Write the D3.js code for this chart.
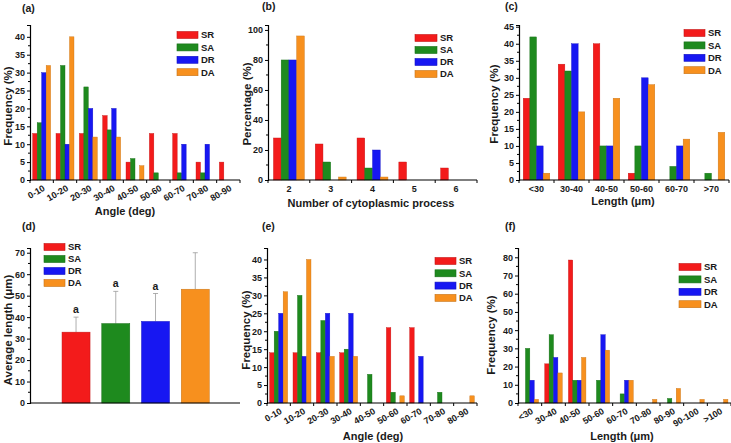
<!DOCTYPE html>
<html><head><meta charset="utf-8">
<script src="https://cdn.jsdelivr.net/npm/d3@7"></script>
<style>
body{margin:0;background:#fff}
text{font-family:"Liberation Sans",Arial,sans-serif;font-weight:bold;fill:#1a1a1a}
</style>
</head><body>
<svg id="chart" width="731" height="443"></svg>
<script>
// ---------- DATA ----------
const seriesNames = ["SR", "SA", "DR", "DA"];
const seriesColors = ["#f31b1b", "#1e8a1e", "#1717f2", "#f7901e"];

// (a) angle distribution
const angleCatsA = ["0-10","10-20","20-30","30-40","40-50","50-60","60-70","70-80","80-90"];
const aSR = [13, 13, 13, 18, 5, 13, 13, 5, 5];
const aSA = [16, 32, 26, 14, 6, 2, 2, 2, 0];
const aDR = [30, 10, 20, 20, 0, 0, 10, 10, 0];
const aDA = [32, 40, 12, 12, 4, 0, 0, 0, 0];

// (b) number of cytoplasmic processes
const processCats = ["2","3","4","5","6"];
const bSR = [28, 24, 28, 12, 8];
const bSA = [80, 12, 8, 0, 0];
const bDR = [80, 0, 20, 0, 0];
const bDA = [96, 2, 2, 0, 0];

// (c) length distribution
const lengthCatsC = ["<30","30-40","40-50","50-60","60-70",">70"];
const cSR = [24, 34, 40, 2, 0, 0];
const cSA = [42, 32, 10, 10, 4, 2];
const cDR = [10, 40, 10, 30, 10, 0];
const cDA = [2, 20, 24, 28, 12, 14];

// (d) average length with error (upper SD)
const dMean = [33, 37, 38, 53];
const dErr  = [7, 15, 13, 17];
const dSig  = ["a", "a", "a", ""];

// (e) angle distribution
const angleCatsE = ["0-10","10-20","20-30","30-40","40-50","50-60","60-70","70-80","80-90"];
const eSR = [14, 14, 14, 14, 0, 21, 21, 0, 0];
const eSA = [20, 30, 23, 15, 8, 3, 0, 3, 0];
const eDR = [25, 13, 25, 25, 0, 0, 13, 0, 0];
const eDA = [31, 40, 13, 13, 0, 2, 0, 0, 2];

// (f) length distribution
const lengthCatsF = ["<30","30-40","40-50","50-60","60-70","70-80","80-90","90-100",">100"];
const fSR = [0, 21.5, 78.5, 0, 0, 0, 0, 0, 0];
const fSA = [30, 37.5, 12.5, 12.5, 5, 0, 2.5, 0, 0];
const fDR = [12.5, 25, 12.5, 37.5, 12.5, 0, 0, 0, 0];
const fDA = [2, 16.5, 25, 29, 12.5, 2, 8, 2, 2];

// ---------- DRAWING ----------
const svg = d3.select("#chart");
const dark = c => d3.color(c).darker(0.6).toString();
const TICK_FS = 9, TITLE_FS = 11.5, LEG_FS = 9.5;

function yAxisDraw(g, y, x0, major, minor, maxV) {
  const gy = g.append("g").attr("transform", `translate(${x0},0)`);
  gy.call(d3.axisLeft(y).tickValues(d3.range(0, maxV + 0.001, major)).tickSize(3).tickPadding(2).tickFormat(d3.format("d")))
    .call(s => s.selectAll("text").style("font-size", TICK_FS + "px").style("font-weight", "bold").attr("fill", "#1a1a1a"))
    .call(s => s.select(".domain").attr("stroke-width", 1.2));
  const mins = d3.range(minor, maxV + 0.001, minor).filter(v => Math.abs(v / major - Math.round(v / major)) > 1e-6);
  gy.selectAll(".mn").data(mins).join("line").attr("class", "mn")
    .attr("x1", 0).attr("x2", -2).attr("y1", d => y(d)).attr("y2", d => y(d)).attr("stroke", "#000");
}

function legendDraw(g, lx, ly, sw, sh, gap, fs) {
  seriesNames.forEach((s, i) => {
    g.append("rect").attr("x", lx).attr("y", ly + i * gap - sh / 2).attr("width", sw).attr("height", sh)
      .attr("fill", seriesColors[i]).attr("stroke", dark(seriesColors[i])).attr("stroke-width", 0.6);
    g.append("text").attr("x", lx + sw + 3).attr("y", ly + i * gap).attr("dy", "0.36em")
      .style("font-size", fs + "px").text(s);
  });
}

function histPanel(p) {
  const g = svg.append("g");
  const x = d3.scaleBand().domain(p.cats).range([p.x0, p.x1]);
  const y = d3.scaleLinear().domain([0, p.yMax]).range([p.y0, p.yTop]);
  const groupW = x.bandwidth() * p.fill;
  const xs = d3.scaleBand().domain(seriesNames).range([0, groupW]);
  const series = [p.v[0], p.v[1], p.v[2], p.v[3]];
  series.forEach((vals, si) => {
    g.selectAll(null).data(vals.map((v, i) => ({ v, c: p.cats[i] })).filter(d => d.v > 0)).join("rect")
      .attr("x", d => x(d.c) + (x.bandwidth() - groupW) / 2 + xs(seriesNames[si]))
      .attr("width", xs.bandwidth())
      .attr("y", d => y(d.v)).attr("height", d => y(0) - y(d.v))
      .attr("fill", seriesColors[si]).attr("stroke", dark(seriesColors[si])).attr("stroke-width", 0.4);
  });
  // x axis
  g.append("line").attr("x1", p.x0).attr("x2", p.x1).attr("y1", p.y0).attr("y2", p.y0).attr("stroke", "#000").attr("stroke-width", 1.2);
  const edges = p.cats.map(c => x(c)).concat([p.x1]);
  g.selectAll(null).data(edges).join("line").attr("x1", d => d).attr("x2", d => d)
    .attr("y1", p.y0).attr("y2", p.y0 + 3).attr("stroke", "#000");
  p.cats.forEach(c => {
    const cx = x(c) + x.bandwidth() / 2;
    if (p.rot) {
      g.append("text").attr("text-anchor", "end")
        .attr("transform", `translate(${cx + p.rotDx},${p.y0 + p.rotDy}) rotate(-30)`)
        .style("font-size", TICK_FS + "px").text(c);
    } else {
      g.append("text").attr("text-anchor", "middle").attr("x", cx).attr("y", p.y0 + 12)
        .style("font-size", TICK_FS + "px").text(c);
    }
  });
  yAxisDraw(g, y, p.x0, p.major, p.minor, p.maxTick);
  // titles
  g.append("text").attr("x", p.xtx).attr("y", p.xty).attr("text-anchor", "middle").style("font-size", "11px").text(p.xt);
  g.append("text").attr("transform", `translate(${p.ytx},${p.yty}) rotate(-90)`).attr("text-anchor", "middle")
    .style("font-size", TITLE_FS + "px").text(p.yt);
  g.append("text").attr("x", p.lblx).attr("y", p.lbly).style("font-size", "10.5px").text(p.lbl);
  legendDraw(g, p.lx, p.ly, p.sw, 7, p.lgap, LEG_FS);
}

histPanel({cats: angleCatsA, v: [aSR, aSA, aDR, aDA], x0: 30, x1: 240, y0: 180, yTop: 25, yMax: 43.3,
  fill: 0.77, major: 5, minor: 2.5, maxTick: 40, rot: true, rotDx: 4, rotDy: 10,
  xt: "Angle (deg)", xtx: 125, xty: 215, yt: "Frequency (%)", ytx: 12, yty: 106,
  lbl: "(a)", lblx: 22, lbly: 12, lx: 177, ly: 35, sw: 21, lgap: 12.4});

histPanel({cats: processCats, v: [bSR, bSA, bDR, bDA], x0: 268, x1: 477, y0: 180, yTop: 25, yMax: 103.3,
  fill: 0.74, major: 20, minor: 10, maxTick: 100, rot: false,
  xt: "Number of cytoplasmic process", xtx: 371, xty: 207, yt: "Percentage (%)", ytx: 251, yty: 104,
  lbl: "(b)", lblx: 262, lbly: 10, lx: 415, ly: 38, sw: 22, lgap: 12});

histPanel({cats: lengthCatsC, v: [cSR, cSA, cDR, cDA], x0: 519, x1: 729, y0: 180, yTop: 25, yMax: 45.5,
  fill: 0.76, major: 5, minor: 2.5, maxTick: 45, rot: false,
  xt: "Length (\u03bcm)", xtx: 623, xty: 205, yt: "Frequency (%)", ytx: 498, yty: 104,
  lbl: "(c)", lblx: 505, lbly: 10, lx: 684, ly: 33, sw: 21, lgap: 12.4});

histPanel({cats: angleCatsE, v: [eSR, eSA, eDR, eDA], x0: 267, x1: 477, y0: 403, yTop: 248, yMax: 43.2,
  fill: 0.77, major: 5, minor: 2.5, maxTick: 40, rot: true, rotDx: 4, rotDy: 10,
  xt: "Angle (deg)", xtx: 373, xty: 440, yt: "Frequency (%)", ytx: 250, yty: 330,
  lbl: "(e)", lblx: 262, lbly: 230, lx: 435, ly: 261, sw: 21, lgap: 12.3});

histPanel({cats: lengthCatsF, v: [fSR, fSA, fDR, fDA], x0: 518, x1: 731, y0: 403, yTop: 248, yMax: 85.1,
  fill: 0.74, major: 10, minor: 5, maxTick: 80, rot: true, rotDx: 4, rotDy: 10,
  xt: "Length (\u03bcm)", xtx: 622, xty: 440, yt: "Frequency (%)", ytx: 495, yty: 335,
  lbl: "(f)", lblx: 505, lbly: 230, lx: 679, ly: 267, sw: 22, lgap: 12.4});

// (d) bar chart with error bars
(function () {
  const g = svg.append("g");
  const x0 = 30, x1 = 240, y0 = 403, yTop = 248;
  const x = d3.scaleBand().domain(seriesNames).range([50.3, 221]).paddingInner(0.295).paddingOuter(0.295);
  const y = d3.scaleLinear().domain([0, 72.2]).range([y0, yTop]);
  seriesNames.forEach((s, i) => {
    const cx = x(s) + x.bandwidth() / 2;
    const top = y(dMean[i] + dErr[i]);
    g.append("line").attr("x1", cx).attr("x2", cx).attr("y1", y(dMean[i])).attr("y2", top).attr("stroke", "#9a9a9a").attr("stroke-width", 0.8);
    g.append("line").attr("x1", cx - 2.5).attr("x2", cx + 2.5).attr("y1", top).attr("y2", top).attr("stroke", "#9a9a9a").attr("stroke-width", 0.8);
    g.append("rect").attr("x", x(s)).attr("width", x.bandwidth()).attr("y", y(dMean[i])).attr("height", y(0) - y(dMean[i]))
      .attr("fill", seriesColors[i]).attr("stroke", dark(seriesColors[i])).attr("stroke-width", 0.5);
    if (dSig[i]) g.append("text").attr("x", cx).attr("y", top - 4).attr("text-anchor", "middle").style("font-size", "10.5px").text(dSig[i]);
  });
  g.append("line").attr("x1", x0).attr("x2", x1).attr("y1", y0).attr("y2", y0).attr("stroke", "#000").attr("stroke-width", 1.2);
  yAxisDraw(g, y, x0, 10, 5, 70);
  g.append("text").attr("transform", `translate(12,330) rotate(-90)`).attr("text-anchor", "middle").style("font-size", TITLE_FS + "px").text("Average length (\u03bcm)");
  g.append("text").attr("x", 22).attr("y", 230).style("font-size", "10.5px").text("(d)");
  legendDraw(g, 44, 247, 21, 7, 12, LEG_FS);
})();
</script>
</body></html>
